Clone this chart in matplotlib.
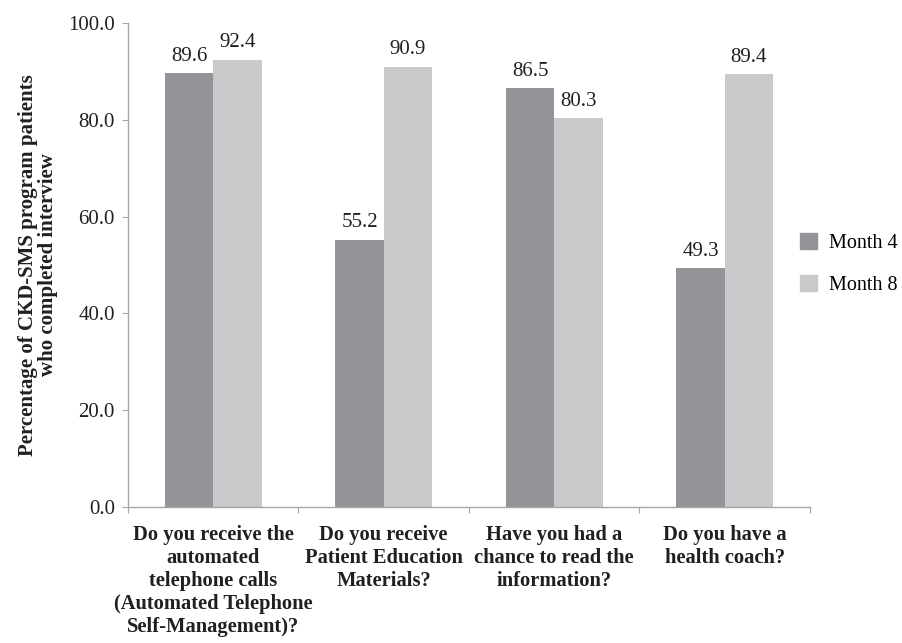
import numpy as np
import matplotlib.pyplot as plt
from matplotlib.patches import Patch

plt.rcParams['font.family'] = 'Liberation Serif'

# survey questions and answers (% yes)
questions = [
    "Do you receive the\nautomated\ntelephone calls\n(Automated Telephone\nSelf-Management)?",
    "Do you receive\nPatient Education\nMaterials?",
    "Have you had a\nchance to read the\ninformation?",
    "Do you have a\nhealth coach?",
]
month4 = [89.6, 55.2, 86.5, 49.3]
month8 = [92.4, 90.9, 80.3, 89.4]
series_names = ["Month 4", "Month 8"]

dark = '#939497'
light = '#c8c9cb'
axis_col = '#a6a6a6'
txt = '#231f20'

fig = plt.figure(figsize=(9.03, 6.43), dpi=100)
ax = fig.add_axes([128 / 903, 1 - 507 / 643, (810 - 128) / 903, (507 - 23) / 643])

x = np.arange(len(questions))
w = 0.283
b1 = ax.bar(x - w / 2, month4, w, color=dark)
b2 = ax.bar(x + w / 2, month8, w, color=light)

for bars, vals in ((b1, month4), (b2, month8)):
    for r, v in zip(bars, vals):
        ax.text(r.get_x() + r.get_width() / 2, v + 1.6, f"{v:.1f}",
                ha='center', va='bottom', fontsize=15, color=txt)

ax.set_xlim(-0.5, len(questions) - 0.5)
ax.set_ylim(0, 100)
ax.set_yticks(np.arange(0, 101, 20))
ax.set_yticklabels([f"{v:.1f}" for v in np.arange(0, 101, 20)], fontsize=15, color=txt)

# group labels centred, tick marks on group boundaries
ax.set_xticks(np.arange(-0.5, len(questions), 1))
ax.set_xticklabels([])
ax.set_xticks(x, minor=True)
ax.set_xticklabels(questions, minor=True, fontsize=14.8, fontweight='bold',
                   color=txt, linespacing=1.2)
ax.tick_params(axis='x', which='minor', length=0, pad=13)
ax.tick_params(axis='x', which='major', length=4.5, color=axis_col)
ax.tick_params(axis='y', length=4.5, color=axis_col, pad=5)

for s in ('top', 'right'):
    ax.spines[s].set_visible(False)
for s in ('left', 'bottom'):
    ax.spines[s].set_color(axis_col)
    ax.spines[s].set_linewidth(1.0)

ax.set_ylabel("Percentage of CKD-SMS program patients\nwho completed interview",
              fontsize=15, fontweight='bold', color=txt, labelpad=7, linespacing=1.05)

handles = [Patch(color=dark), Patch(color=light)]
fig.legend(handles, series_names, loc='center left', bbox_to_anchor=(782 / 903, 1 - 264 / 643),
           frameon=False, fontsize=14.5, handlelength=0.85, handleheight=0.85,
           labelspacing=1.1, handletextpad=0.6)

fig.savefig('out.png', dpi=100)
